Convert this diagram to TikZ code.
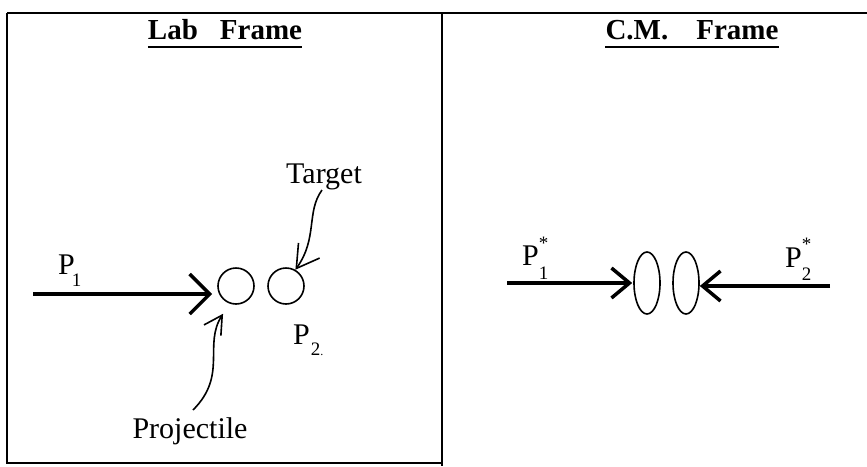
\documentclass[tikz,border=0pt]{standalone}
\usepackage{fontspec}
\setmainfont{Liberation Serif}
\usetikzlibrary{arrows.meta,shapes.geometric}
\newcommand\subsz{\fontsize{19}{19}\selectfont}
\begin{document}
\begin{tikzpicture}[x=1pt,y=-1pt,
  frameline/.style={line width=2pt},
  titletext/.style={font=\fontsize{29}{34}\selectfont\bfseries, anchor=base, inner sep=0pt},
  labeltext/.style={font=\fontsize{30}{36}\selectfont, anchor=base, inner sep=0pt},
  ball/.style={circle, draw, line width=1.6pt, minimum size=36pt, inner sep=0pt},
  disc/.style={ellipse, draw, line width=1.6pt, minimum width=26pt, minimum height=62pt, inner sep=0pt},
  momarrow/.style={line width=3.8pt, -{Straight Barb[length=20pt,width=40pt,line width=3.5pt]}},
  momarrowR/.style={line width=3.8pt, -{Straight Barb[length=18pt,width=30pt,line width=3.5pt]}},
  pointer/.style={line width=1.6pt, -{Straight Barb[length=22pt,width=26pt,line width=1.6pt]}},
  pointerS/.style={line width=1.6pt, -{Straight Barb[length=18pt,width=20pt,line width=1.6pt]}},
  underl/.style={line width=2pt}
]
\useasboundingbox (0,0) rectangle (867,466);
% frame
\draw[frameline] (7,13) -- (867,13);
\draw[frameline] (7,13) -- (7,463) -- (442,463);
\draw[frameline] (442,13) -- (442,466);

% titles
\node[titletext] (labt) at (225,39) {Lab\hspace{22pt}Frame};
\draw[underl] ([yshift=-8pt]labt.base west) -- ([yshift=-8pt]labt.base east);
\node[titletext] (cmt) at (692,39) {C.M.\hspace{28pt}Frame};
\draw[underl] ([yshift=-8pt]cmt.base west) -- ([yshift=-8pt]cmt.base east);

% lab frame
\node[ball] (proj) at (236,286) {};
\node[ball] (targ) at (286,286) {};
\coordinate (p1s) at (33,294);
\draw[momarrow, shorten >=5pt] (p1s) -- (p1s -| proj.west);
\node[labeltext, anchor=base west] (p1l) at (58,274) {P\kern-3pt\raisebox{-12pt}{\subsz 1}};
\node[labeltext] (tl) at (324,183) {Target};
\draw[pointer] (322,190) .. controls (306,212) and (318,238) .. (targ.60);
\node[labeltext] (pl) at (190,438) {Projectile};
\draw[pointerS, shorten >=12pt] (193,410) .. controls (228,375) and (203,345) .. (proj.250);
\node[labeltext, anchor=base west] (p2l) at (293,344) {P\kern1pt\raisebox{-11pt}{\subsz 2}\raisebox{-11pt}{\fontsize{12}{12}\selectfont .}};

% CM frame
\node[disc] (e1) at (647,283) {};
\node[disc] (e2) at (686,283) {};
\coordinate (q1s) at (507,283);
\coordinate (q2s) at (830,286);
\draw[momarrowR, shorten >=1pt] (q1s) -- (q1s -| e1.west);
\draw[momarrowR] (q2s) -- (q2s -| e2.east);
\node[labeltext, anchor=base west] (q1l) at (522,265) {P\rlap{\raisebox{-14pt}{\subsz 1}}\raisebox{16pt}{\subsz *}};
\node[labeltext, anchor=base west] (q2l) at (785,267) {P\rlap{\raisebox{-13pt}{\subsz 2}}\raisebox{17pt}{\subsz *}};
\end{tikzpicture}
\end{document}
